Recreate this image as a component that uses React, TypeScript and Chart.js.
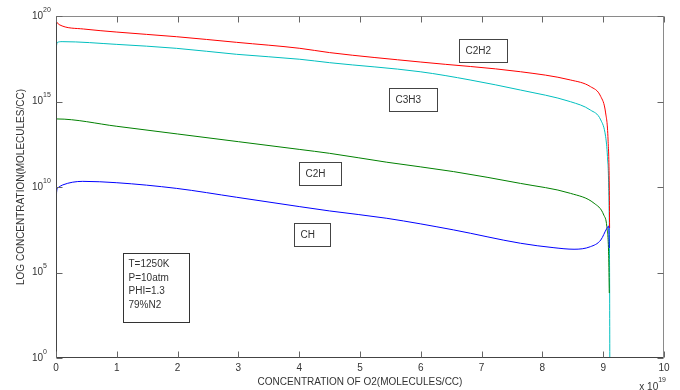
import React, { useEffect, useRef } from "react";
import { Chart, registerables } from "chart.js";

Chart.register(...registerables);

// ---- data (x in units of 1e19 molecules/cc, y = log10 concentration) ----
const c2h2X = [0, 0.05, 0.45, 1, 1.98, 2.97, 4.01, 4.5, 5.99, 7.64, 8.46, 8.79, 8.96, 9.04, 9.08, 9.1, 9.105];
const c2h2Log = [19.7, 19.5, 19.24, 19.06, 18.79, 18.46, 18.11, 17.86, 17.31, 16.74, 16.26, 15.87, 15.29, 14.33, 12.75, 10.0, 7.6];

const c3h3X = [0, 0.02, 0.1, 1, 1.98, 2.97, 4.01, 4.5, 5.99, 6.81, 7.64, 8.46, 8.79, 8.96, 9.04, 9.07, 9.09, 9.105, 9.11];
const c3h3Log = [18.05, 18.45, 18.5, 18.34, 18.11, 17.76, 17.47, 17.27, 16.74, 16.26, 15.67, 14.99, 14.5, 13.92, 12.94, 11.78, 10.0, 5.0, -2.0];

const c2hX = [0, 0.01, 1, 2, 3, 4, 4.5, 5.44, 6.54, 7.64, 8.46, 8.85, 9.01, 9.06, 9.09, 9.1];
const c2hLog = [13.37, 13.98, 13.55, 13.1, 12.65, 12.2, 11.97, 11.45, 10.9, 10.21, 9.63, 9.05, 8.36, 7.68, 6.0, 3.8];

const chX = [0, 0.01, 0.03, 0.11, 0.44, 1, 1.98, 2.97, 4.01, 4.5, 5.44, 6.54, 7.64, 8.19, 8.52, 8.79, 8.96, 9.06, 9.09, 9.1];
const chLog = [7.88, 9.7, 9.95, 10.12, 10.33, 10.25, 9.92, 9.4, 8.85, 8.6, 8.17, 7.49, 6.71, 6.45, 6.36, 6.51, 6.9, 7.58, 7.72, 6.43];

const xTicks = [0, 1, 2, 3, 4, 5, 6, 7, 8, 9, 10];
const yTickExponents = [0, 5, 10, 15, 20];

const seriesNames = ["CH", "C2H", "C2H2", "C3H3"];
const infoLines = ["T=1250K", "P=10atm", "PHI=1.3", "79%N2"];

const xTitle = "CONCENTRATION OF O2(MOLECULES/CC)";
const yTitle = "LOG CONCENTRATION(MOLECULES/CC)";
const xMultiplierExp = "19";

// ---- annotation placement (data coords of box top-left) ----
const labelBoxes = [
  { text: "C2H2", x: 6.63, y: 18.65, w: 48 },
  { text: "C3H3", x: 5.48, y: 15.77, w: 48 },
  { text: "C2H", x: 4.0, y: 11.49, w: 42 },
  { text: "CH", x: 3.92, y: 7.91, w: 36 },
];
const infoBox = { x: 1.1, y: 6.12, w: 66, h: 69 };

const FONT = '"Liberation Sans", Arial, Helvetica, sans-serif';

const toPts = (xs: number[], ys: number[]) => xs.map((x, i) => ({ x, y: ys[i] }));

const decorPlugin = {
  id: "decor",
  afterDraw(chart: any) {
    const { ctx, chartArea: a, scales } = chart;
    const xs = scales.x;
    const ys = scales.y;
    ctx.save();
    ctx.lineWidth = 1;
    const L = Math.round(a.left) + 0.5;
    const R = Math.round(a.right) - 0.5;
    const T = Math.round(a.top) + 0.5;
    const B = Math.round(a.bottom) - 0.5;

    // frame
    ctx.strokeStyle = "#8a8a8a";
    ctx.beginPath();
    ctx.moveTo(L, T);
    ctx.lineTo(R, T);
    ctx.lineTo(R, B);
    ctx.stroke();
    ctx.strokeStyle = "#444";
    ctx.beginPath();
    ctx.moveTo(L, T);
    ctx.lineTo(L, B);
    ctx.lineTo(R, B);
    ctx.stroke();

    // ticks
    const tl = 6;
    ctx.strokeStyle = "#666";
    ctx.beginPath();
    xTicks.forEach((v) => {
      const px = Math.round(xs.getPixelForValue(v)) + 0.5;
      ctx.moveTo(px, B);
      ctx.lineTo(px, B - tl);
      ctx.moveTo(px, T);
      ctx.lineTo(px, T + tl);
    });
    yTickExponents.forEach((v) => {
      const py = Math.round(ys.getPixelForValue(v)) + 0.5;
      ctx.moveTo(L, py);
      ctx.lineTo(L + tl, py);
      ctx.moveTo(R, py);
      ctx.lineTo(R - tl, py);
    });
    ctx.stroke();

    ctx.fillStyle = "#333";
    // x tick labels
    ctx.font = `10px ${FONT}`;
    ctx.textAlign = "center";
    ctx.textBaseline = "middle";
    xTicks.forEach((v) => {
      ctx.fillText(String(v), xs.getPixelForValue(v), a.bottom + 10);
    });
    // y tick labels 10^n
    yTickExponents.forEach((v) => {
      const py = ys.getPixelForValue(v);
      ctx.font = `10px ${FONT}`;
      ctx.textAlign = "right";
      ctx.fillText("10", a.left - 13, py);
      ctx.font = `7px ${FONT}`;
      ctx.textAlign = "left";
      ctx.fillText(String(v), a.left - 13, py - 6);
    });

    // axis titles
    ctx.font = `10px ${FONT}`;
    ctx.textAlign = "center";
    ctx.fillText(xTitle, (a.left + a.right) / 2, a.bottom + 24);
    ctx.save();
    ctx.translate(21, (a.top + a.bottom) / 2);
    ctx.rotate(-Math.PI / 2);
    ctx.fillText(yTitle, 0, 0);
    ctx.restore();

    // x multiplier
    ctx.font = `7px ${FONT}`;
    ctx.textAlign = "right";
    ctx.fillText(xMultiplierExp, a.right + 2, a.bottom + 22);
    const expW = ctx.measureText(xMultiplierExp).width;
    ctx.font = `10px ${FONT}`;
    ctx.fillText("x 10", a.right + 2 - expW, a.bottom + 29);

    // label boxes
    labelBoxes.forEach((b) => {
      const bx = Math.round(xs.getPixelForValue(b.x)) + 0.5;
      const by = Math.round(ys.getPixelForValue(b.y)) + 0.5;
      ctx.strokeStyle = "#444";
      ctx.strokeRect(bx, by, b.w, 23);
      ctx.fillStyle = "#333";
      ctx.font = `10px ${FONT}`;
      ctx.textAlign = "left";
      ctx.textBaseline = "middle";
      ctx.fillText(b.text, bx + 6, by + 12);
    });

    // info box
    const ix = Math.round(xs.getPixelForValue(infoBox.x)) + 0.5;
    const iy = Math.round(ys.getPixelForValue(infoBox.y)) + 0.5;
    ctx.strokeStyle = "#333";
    ctx.strokeRect(ix, iy, infoBox.w, infoBox.h);
    ctx.fillStyle = "#333";
    ctx.font = `10px ${FONT}`;
    ctx.textAlign = "left";
    infoLines.forEach((t, i) => {
      ctx.fillText(t, ix + 5, iy + 11 + i * 13.5);
    });

    ctx.restore();
  },
};

export default function App() {
  const ref = useRef<HTMLCanvasElement | null>(null);
  useEffect(() => {
    if (!ref.current) return;
    const mk = (label: string, xs: number[], ys: number[], color: string) => ({
      label,
      data: toPts(xs, ys),
      borderColor: color,
      backgroundColor: color,
      borderWidth: 1,
      pointRadius: 0,
      fill: false,
      cubicInterpolationMode: "monotone" as const,
    });
    const chart = new Chart(ref.current, {
      type: "line",
      data: {
        datasets: [
          mk(seriesNames[0], chX, chLog, "#0000ff"),
          mk(seriesNames[1], c2hX, c2hLog, "#008000"),
          mk(seriesNames[2], c2h2X, c2h2Log, "#ff0000"),
          mk(seriesNames[3], c3h3X, c3h3Log, "#00bfbf"),
        ],
      },
      options: {
        responsive: false,
        maintainAspectRatio: false,
        animation: false,
        parsing: true,
        layout: { padding: { left: 56, right: 16, top: 16, bottom: 32 } },
        scales: {
          x: { type: "linear", min: 0, max: 10, display: false },
          y: { type: "linear", min: 0, max: 20, display: false },
        },
        plugins: { legend: { display: false }, tooltip: { enabled: false } },
      },
      plugins: [decorPlugin],
    });
    return () => chart.destroy();
  }, []);
  return (
    <div style={{ position: "absolute", left: 0, top: 0, width: 680, height: 390, background: "#fff" }}>
      <canvas ref={ref} width={680} height={390} style={{ width: 680, height: 390, display: "block" }} />
    </div>
  );
}
